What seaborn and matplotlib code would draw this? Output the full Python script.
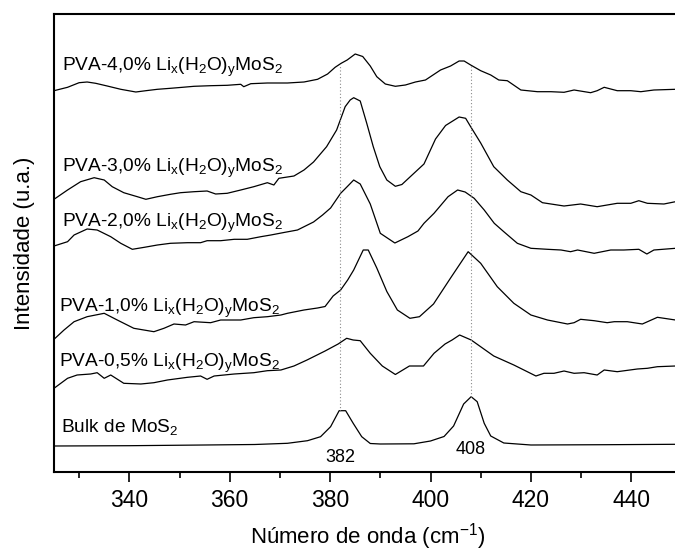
import numpy as np
import pandas as pd
import matplotlib
matplotlib.use("Agg")
import matplotlib.pyplot as plt
import seaborn as sns

# Raman spectra (wavenumber in cm^-1, stacked intensity in a.u.)
wn_pva40 = [325, 327.7, 330, 331.6, 333.3, 335.6, 338.3, 341.3, 343.3, 345.6, 348.2, 350.6, 352.9,
            356.2, 359.5, 362.2, 362.8, 364.2, 367.5, 371.5, 374.8, 377.5, 379.5, 381, 382.2, 383.4,
            385, 386.5, 388, 389.3, 391, 393, 395, 397, 399, 400.5, 402, 404, 405.7, 406.7, 408, 410,
            412, 413.6, 415.3, 418, 421.3, 424, 426.6, 428.6, 431.9, 433.2, 434.6, 437.2, 439.9,
            441.9, 444.5, 448.8]
int_pva40 = [381.3, 384.7, 389.3, 390, 388.7, 386, 382.7, 380, 381.3, 382.7, 383.7, 384.7, 385.7,
             386.3, 386.7, 387.7, 385.3, 388.3, 389, 389, 390, 392.7, 398, 404.7, 408.7, 412,
             418, 415.5, 406, 395.3, 388, 385.7, 387, 390, 392, 397, 402, 406, 411, 411, 407, 401.3,
             397, 392, 391.3, 382, 380.3, 380.3, 379.7, 382, 379.3, 381.3, 384.7, 381.3, 381.3,
             380.3, 382, 382.7]

wn_pva30 = [325, 327.7, 330.3, 333, 335, 336.6, 338.9, 341.6, 343.3, 345.6, 348.2, 350.2, 352.9,
            355.5, 357.2, 359.5, 362.2, 364.8, 367.5, 368.8, 369.8, 372.8, 374.8, 376.7, 379.3,
            381.3, 383, 384, 384.7, 386, 387.3, 388.6, 389.9, 391.3, 393, 394.3, 396.7, 398.7, 401,
            403, 405.7, 407, 408, 410, 412.6, 415.3, 418, 420, 422.3, 426.6, 429.9, 433.2, 437.2,
            439.9, 441.5, 443.2, 446.5, 448.8]
int_pva30 = [272.7, 282, 290.3, 294.3, 292, 285.3, 279.3, 275.3, 272.7, 275.3, 277.7, 279.3, 280.3,
             281, 278, 278.7, 282, 285.3, 289.3, 287, 293.7, 296, 302, 310, 325.3,
             342, 365.3, 372, 374.3, 371, 348.7, 325.3, 305.3, 292, 285.7, 287.5, 298.7, 308, 333,
             346.5, 355, 353.7, 345.3, 329, 305.3, 292, 280.3, 277, 269.3, 266, 268, 265.3, 268.7,
             268.7, 271.3, 268.7, 268, 270.3]

wn_pva20 = [325, 327.7, 329, 331.6, 333.6, 336.3, 338.3, 340.6, 343, 345.6, 348.2, 351.6, 354.2,
            355.5, 358.2, 360.9, 363.5, 366.2, 368.2, 370.8, 373.5, 376.7, 378.5, 380.1, 382.1,
            383.4, 384.7, 386, 388, 390, 392.9, 395.5, 397.5, 398.7, 400.7, 403.5, 405.4, 406.9,
            408.7, 410.7, 412.7, 414.6, 417.3, 420, 423.3, 426, 427.9, 429.3, 432.6, 435.9, 438.5,
            441.5, 443.1, 444.5, 448.8]
int_pva20 = [226, 230.3, 237, 243, 242, 235.3, 228.7, 222.7, 224.7, 227, 228.7, 229.3, 229.3,
             231.3, 231.3, 232.7, 232.7, 235.3, 237, 239.5, 242, 250, 257, 264, 278.7,
             285.3, 292, 288, 268, 238.7, 229, 235.3, 241, 248.7, 258.7, 275.3, 282, 280,
             273.7, 262, 248.7, 240.3, 228.7, 223.7, 222.7, 222, 220.3, 222, 218.7, 222, 222,
             222.7, 218, 222, 223.7]

wn_pva10 = [325, 327, 329, 331.6, 335, 337.6, 340.9, 344.9, 346.9, 348.9, 351.2, 352.9, 356.2,
            358.2, 362.2, 364.8, 367.5, 370.2, 371.5, 374.8, 377.5, 379, 380.6, 382.1, 383.5,
            384.7, 386.6, 387.6, 389.3, 391.3, 393.4, 395.9, 397.8, 400.6, 404, 407.5, 410, 413.3,
            416.6, 420, 423.3, 427.3, 428.6, 429.9, 432.6, 435.2, 436.6, 439.2, 442.2, 445.2, 448.8]
int_pva10 = [132.7, 142, 150.3, 155.3, 158.7, 152, 143.7, 140.3, 143.7, 148, 147, 150.3, 149.3,
             152, 152, 154.3, 155.3, 157, 158.7, 162, 164, 165.5, 176, 182, 192,
             202, 222, 222, 204, 180.5, 162, 153.7, 155.3, 168, 194, 220.3, 208.7, 185.3,
             168.7, 157, 152, 148, 149.3, 152.7, 151.3, 149.3, 150.3, 150.3, 148, 154.7, 152]

wn_pva05 = [325, 327.7, 329.6, 332.3, 333.6, 335, 336.3, 338.9, 342.3, 344.9, 347.6, 351.6, 354.2,
            355.5, 356.9, 360.9, 364.8, 367.5, 370.2, 372.8, 375.4, 379, 381.6, 383.3, 384.6, 386,
            388, 390.4, 393, 395.8, 398.6, 400.7, 402.9, 404.3, 405.8, 408.1, 412.6, 416.6, 421,
            422.6, 424.6, 426.6, 428.6, 430.6, 433.2, 434.6, 437.2, 441.2, 443.2, 445.2, 448.8]
int_pva05 = [83.7, 93.7, 97, 98, 99.3, 93.7, 97, 88.7, 88, 89.3, 92, 94.7, 96,
             92.7, 96, 98, 99.3, 101.3, 102, 106, 112, 121, 128, 133.7, 132, 131.3,
             118.7, 106, 97.5, 106, 106, 118.7, 128, 132, 137, 132, 116, 107, 96,
             98.7, 98.7, 101, 98.7, 99.3, 97, 102, 100.3, 103, 103.7, 105.3, 106]

wn_bulk = [325, 340, 355, 365, 371.5, 375.5, 378.1, 380.1, 381.8, 383.1, 384.6, 386.3, 388, 390,
           396.7, 400, 402.7, 404.6, 406.6, 408.1, 409.3, 410.7, 412, 414.6, 420, 435, 448.8]
int_bulk = [26, 26.3, 27, 27.5, 28.7, 31.3, 35.3, 45.3, 61.3, 61.3, 48.7, 35.3, 28.5, 28,
            28.2, 31, 35.5, 46, 68, 75.3, 70.3, 48.7, 36, 29, 27, 27.3, 27.7]

sample_names = [
    "PVA-4,0% Li$_x$(H$_2$O)$_y$MoS$_2$",
    "PVA-3,0% Li$_x$(H$_2$O)$_y$MoS$_2$",
    "PVA-2,0% Li$_x$(H$_2$O)$_y$MoS$_2$",
    "PVA-1,0% Li$_x$(H$_2$O)$_y$MoS$_2$",
    "PVA-0,5% Li$_x$(H$_2$O)$_y$MoS$_2$",
    "Bulk de MoS$_2$",
]
spectra_wn = [wn_pva40, wn_pva30, wn_pva20, wn_pva10, wn_pva05, wn_bulk]
spectra_int = [int_pva40, int_pva30, int_pva20, int_pva10, int_pva05, int_bulk]

# label anchors (wavenumber, intensity baseline)
label_x = [326.6, 326.6, 326.6, 326.0, 326.0, 326.3]
label_y = [401.3, 300.3, 245.3, 160.3, 105.3, 40.3]

peak_positions = [382, 408]
peak_label_y = [14, 23]

frames = []
for name, wn, inten in zip(sample_names, spectra_wn, spectra_int):
    frames.append(pd.DataFrame({"wn": wn, "intensity": inten, "amostra": name}))
df = pd.concat(frames, ignore_index=True)

sns.set_style("ticks")
plt.rcParams["font.family"] = ["Liberation Sans", "DejaVu Sans"]
plt.rcParams["mathtext.default"] = "regular"
plt.rcParams["text.color"] = "black"
plt.rcParams["axes.labelcolor"] = "black"
plt.rcParams["xtick.color"] = "black"
plt.rcParams["xtick.labelcolor"] = "black"

fig = plt.figure(figsize=(6.75, 5.53), dpi=100)
ax = fig.add_axes([54 / 675, 81 / 553, 627.5 / 675, 458 / 553])

sns.lineplot(data=df, x="wn", y="intensity", hue="amostra", palette=["black"] * 6,
             estimator=None, sort=False, legend=False, linewidth=0.9, ax=ax)

# dotted guide lines from the bulk peaks up to the top spectrum
top_wn = np.array(wn_pva40, dtype=float)
top_int = np.array(int_pva40, dtype=float)
bulk_wn = np.array(wn_bulk, dtype=float)
bulk_int = np.array(int_bulk, dtype=float)
for p in peak_positions:
    y0 = np.interp(p, bulk_wn, bulk_int)
    y1 = np.interp(p, top_wn, top_int)
    ax.vlines(p, y0, y1, colors="#8a8a8a", linestyles=(0, (1, 2)), linewidth=0.8)

for p, yl in zip(peak_positions, peak_label_y):
    ax.text(p, yl, str(p), ha="center", va="center", fontsize=13, color="black")

for name, lx, ly in zip(sample_names, label_x, label_y):
    ax.text(lx, ly, name, ha="left", va="baseline", fontsize=13.8, color="black")

ax.set_xlim(325, 450)
ax.set_ylim(0, 458)
ax.set_xticks([340, 360, 380, 400, 420, 440])
ax.set_xticks(np.arange(330, 450, 10), minor=True)
ax.set_yticks([])
ax.tick_params(axis="x", which="major", length=7, width=1.2, direction="out", pad=5,
               labelsize=16.5, color="black")
ax.tick_params(axis="x", which="minor", length=4, width=1.2, direction="out", color="black")
for side in ["left", "top", "bottom"]:
    ax.spines[side].set_visible(True)
    ax.spines[side].set_linewidth(1.5)
    ax.spines[side].set_color("black")
ax.spines["right"].set_visible(False)

ax.set_xlabel("Número de onda (cm$^{-1}$)", fontsize=16, labelpad=7)
ax.set_ylabel("Intensidade (u.a.)", fontsize=16, labelpad=14)

fig.savefig("out.png", dpi=100)
